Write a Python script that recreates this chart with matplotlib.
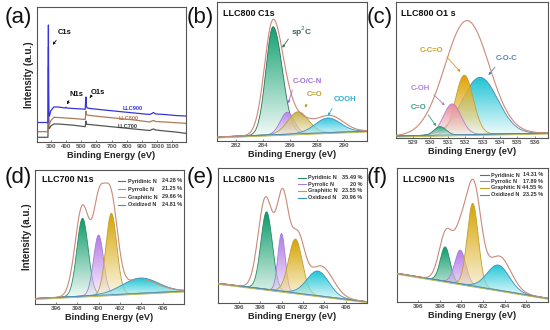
import numpy as np
import matplotlib
matplotlib.use('Agg')
import matplotlib.pyplot as plt
from matplotlib.path import Path
from matplotlib.patches import PathPatch
from matplotlib.colors import to_rgb
from matplotlib.lines import Line2D

plt.rcParams['font.family'] = ['Liberation Sans', 'DejaVu Sans']

# ---------------- DATA ----------------
# (a) survey spectra (binding energy eV, intensity a.u.)
survey_x_900 = [210, 282, 284, 285, 286, 288, 292, 300, 320, 350, 395, 400, 405, 450, 527, 530, 532, 534, 540, 560, 650, 750, 850, 950, 965, 975, 990, 1050, 1120, 1186]
survey_y_900 = [19.5, 19.5, 60, 117, 50, 28, 26, 31, 35, 35, 34, 34.8, 34, 33.5, 32.8, 42, 45, 36, 34, 33.5, 32, 30.5, 29, 27.5, 28.5, 29.5, 28, 27.5, 26.5, 26]
survey_x_800 = [210, 282, 284, 285, 286, 288, 292, 300, 320, 350, 450, 527, 530, 532, 534, 540, 560, 650, 750, 850, 950, 965, 975, 990, 1050, 1120, 1186]
survey_y_800 = [10.3, 10.3, 40, 95, 35, 19, 18, 21, 24.7, 24.5, 23.5, 22.5, 28, 31, 27.5, 27, 26.5, 25, 23.5, 22, 20, 21, 21.5, 20.5, 20, 19.3, 18.7]
survey_x_700 = [210, 282, 284, 285, 286, 288, 292, 300, 320, 350, 450, 527, 530, 532, 534, 540, 560, 650, 750, 850, 950, 965, 975, 990, 1050, 1120, 1186]
survey_y_700 = [4.7, 4.7, 30, 75, 25, 14, 13.5, 16, 18, 18, 16.8, 15.3, 19, 21, 18, 17.7, 17.4, 16, 14.5, 13, 11.5, 12.5, 13, 12, 11, 10, 8.7]
survey_names = ['LLC900', 'LLC800', 'LLC700']
survey_ticks = [300, 400, 500, 600, 700, 800, 900, 1000, 1100]

# (b) LLC800 C1s : (center, height, fwhm_left, fwhm_right)
c1s_names = ['sp$^2$C', 'C-O/C-N', 'C=O', 'COOH']
c1s_centers = [284.75, 285.8, 286.6, 288.8]
c1s_heights = [108, 22, 22, 14.6]
c1s_fwhm_l = [1.25, 1.2, 1.8, 2.2]
c1s_fwhm_r = [1.6, 1.2, 1.8, 2.2]
c1s_env_centers = [284.75, 285.9, 286.7, 288.9]
c1s_env_heights = [114, 10, 14, 17]
c1s_env_fwhm_l = [1.5, 1.2, 1.8, 2.4]
c1s_env_fwhm_r = [1.7, 1.2, 1.8, 2.4]
c1s_base = [4, 10]
c1s_ticks = [282, 284, 286, 288, 290]

# (c) LLC800 O1s
o1s_names = ['C-O-C', 'C-C=O', 'C-OH', 'C=O']
o1s_centers = [532.85, 531.95, 531.25, 530.55]
o1s_heights = [57, 59.5, 31, 8.5]
o1s_fwhm = [2.4, 1.2, 1.2, 0.8]
o1s_env_centers = [532.1]
o1s_env_heights = [114]
o1s_env_fwhm = [3.0]
o1s_base = [2, 5]
o1s_ticks = [529, 530, 531, 532, 533, 534, 535, 536]

# (d)-(f) N1s
n1s_names = ['Pyridinic N', 'Pyrrolic N', 'Graphitic N', 'Oxidized N']
n1s_ticks = [396, 398, 400, 402, 404, 406]

llc700_centers = [398.5, 400.0, 401.2, 403.9]
llc700_heights = [77.8, 60.3, 81.4, 15.2]
llc700_fwhm = [1.25, 1.1, 1.2, 4.0]
llc700_env_centers = [398.5, 400.0, 401.1, 403.8]
llc700_env_heights = [90, 75, 97, 14]
llc700_env_fwhm = [1.6, 1.2, 1.5, 4.0]
llc700_base = [5.5, 13]
llc700_pct = ['24.28 %', '21.25 %', '29.66 %', '24.81 %']

llc800_centers = [398.6, 400.0, 401.3, 403.4]
llc800_heights = [77.5, 57.7, 53.8, 24.6]
llc800_fwhm = [1.25, 0.8, 1.5, 2.4]
llc800_env_centers = [398.5, 400.1, 401.5, 403.7]
llc800_env_heights = [91, 92, 55, 30]
llc800_env_fwhm = [1.6, 1.3, 1.5, 2.6]
llc800_base = [19.7, 1.3]
llc800_pct = ['35.49 %', '20 %', '23.55 %', '20.96 %']

llc900_centers = [398.5, 399.9, 401.05, 403.4]
llc900_heights = [34.4, 33.7, 82.5, 25]
llc900_fwhm = [1.05, 1.2, 1.2, 2.4]
llc900_env_centers = [398.6, 399.9, 401.1, 403.5]
llc900_env_heights = [50, 40, 100, 34]
llc900_env_fwhm = [1.5, 1.3, 1.6, 2.5]
llc900_base = [28.7, 3.7]
llc900_pct = ['14.31 %', '17.89 %', '44.55 %', '23.25 %']

# ---------------- STYLE ----------------
W, H = 550, 330
fig = plt.figure(figsize=(5.5, 3.3), dpi=100)
ENV = '#c98b78'
SPINE = '#555555'
TXT = '#333333'


def P(x, y):
    return (x / W, 1 - y / H)


def add_axes(l, t, r, b):
    return fig.add_axes([l / W, 1 - b / H, (r - l) / W, (b - t) / H])


def peak(x, c, h, wl, wr):
    w = np.where(x < c, wl, wr)
    return h * np.exp(-4 * np.log(2) * ((x - c) / w) ** 2)


def grad_fill(ax, x, ytop, ybot, color, z):
    verts = np.column_stack([np.r_[x, x[::-1]], np.r_[ytop, ybot[::-1]]])
    patch = PathPatch(Path(verts), facecolor='none', edgecolor='none', transform=ax.transData)
    ax.add_patch(patch)
    n = 200
    t = np.linspace(0, 1, n)[:, None]
    rgb = np.array(to_rgb(color))
    img = np.zeros((n, 1, 4))
    f = t ** 0.55
    img[..., :3] = (1 - f)[..., None] * np.ones(3) + f[..., None] * rgb
    img[..., 3] = 0.35 + 0.65 * t ** 0.7
    im = ax.imshow(img, extent=[x.min(), x.max(), ybot.min(), ytop.max()], origin='lower',
                   aspect='auto', zorder=z, interpolation='bilinear')
    im.set_clip_path(patch)


def style_axes(ax, xlim, ylim, ticks, xlabel=True, ylabel=False):
    ax.set_xlim(*xlim)
    ax.set_ylim(*ylim)
    ax.set_yticks([])
    ax.set_xticks(ticks)
    ax.set_xticklabels([str(t) for t in ticks], fontsize=4.5, fontweight='bold', color='#444444')
    ax.tick_params(axis='x', direction='in', length=1.5, width=0.5, pad=1.5, colors='#555555')
    for s in ax.spines.values():
        s.set_color(SPINE)
        s.set_linewidth(0.8)
    if xlabel:
        ax.set_xlabel('Binding Energy (eV)', fontsize=6.6, fontweight='bold', labelpad=1.2, color='#222222')
    if ylabel:
        ax.set_ylabel('Intensity (a.u.)', fontsize=7, fontweight='bold', labelpad=2, color='#222222')


def draw_fit(ax, xlim, base_ends, centers, heights, fl, fr, colors, lcolors,
             ecent, eh, efl, efr, order=None):
    x = np.linspace(xlim[0], xlim[1], 800)
    base = np.interp(x, xlim, base_ends)
    idx = order if order is not None else range(len(centers))
    z = 2
    for i in idx:
        g = peak(x, centers[i], heights[i], fl[i], fr[i])
        grad_fill(ax, x, base + g, base, colors[i], z)
        ax.plot(x, base + g, color=lcolors[i], lw=0.6, zorder=z + 0.5)
        z += 1
    env = base.copy()
    for c, h, a, b in zip(ecent, eh, efl, efr):
        env = env + peak(x, c, h, a, b)
    ax.plot(x, env, color=ENV, lw=0.8, zorder=20)
    ax.plot(x, base, color='#4f8fb0', lw=0.6, zorder=19)
    ax.plot(x, base - 1.0, color='#a9b040', lw=0.6, zorder=18)


def panel_label(s, x, y):
    fig.text(*P(x, y), s, fontsize=16, ha='left', va='center', color='#111111')


def title(s, x, y):
    fig.text(*P(x, y), s, fontsize=6.5, fontweight='bold', ha='left', va='center', color='#111111')


def arrow_text(s, tx, ty, ax0, ay0, ax1, ay1, color, fs=5.5):
    fig.text(*P(tx, ty), s, fontsize=fs, fontweight='bold', ha='center', va='center', color=color)
    fig.add_artist(matplotlib.patches.FancyArrowPatch(P(ax0, ay0), P(ax1, ay1), transform=fig.transFigure,
                                                      arrowstyle='-|>', mutation_scale=3.5, color=color, lw=0.6))


def legend(xh0, xh1, xt, xr, ys, colors, names, pcts):
    for y, c, n, p in zip(ys, colors, names, pcts):
        fig.add_artist(Line2D([xh0 / W, xh1 / W], [1 - y / H] * 2, transform=fig.transFigure, color=c, lw=0.8))
        fig.text(*P(xt, y), n, fontsize=4, fontweight='bold', ha='left', va='center', color=TXT)
        fig.text(*P(xr, y), p, fontsize=4, fontweight='bold', ha='right', va='center', color=TXT)


# ---------------- (a) survey ----------------
axa = add_axes(37, 7, 185.5, 142)
for xs, ys, col in [(survey_x_700, survey_y_700, '#555555'),
                    (survey_x_800, survey_y_800, '#b07a55'),
                    (survey_x_900, survey_y_900, '#3535dd')]:
    axa.plot(xs, ys, color=col, lw=0.9)
style_axes(axa, (210, 1186), (0, 135), survey_ticks, ylabel=True)
panel_label('(a)', 5, 18)
fig.text(*P(133, 109), survey_names[0], fontsize=4, fontweight='bold', color='#3535dd', ha='center', va='center')
fig.text(*P(129, 119), survey_names[1], fontsize=4, fontweight='bold', color='#b07a55', ha='center', va='center')
fig.text(*P(128, 126), survey_names[2], fontsize=4, fontweight='bold', color='#333333', ha='center', va='center')
arrow_text('C1s', 65, 33, 58, 38, 51, 47, '#111111', fs=5.5)
arrow_text('N1s', 76, 94, 70, 98, 66, 107, '#111111', fs=5.5)
arrow_text('O1s', 98, 92, 92, 95, 88, 100, '#111111', fs=5.5)

# ---------------- (b) C1s ----------------
xlim_b = (280.6, 291.7)
axb = add_axes(217, 2, 367, 141)
cb = ['#0fa070', '#bb86f0', '#c8b048', '#26c4dc']
lb = ['#2f6f55', '#a37ad6', '#b4a03a', '#3f8fb8']
draw_fit(axb, xlim_b, c1s_base, c1s_centers, c1s_heights, c1s_fwhm_l, c1s_fwhm_r, cb, lb,
         c1s_env_centers, c1s_env_heights, c1s_env_fwhm_l, c1s_env_fwhm_r)
style_axes(axb, xlim_b, (0, 139), c1s_ticks)
panel_label('(b)', 187, 18)
title('LLC800 C1s', 223, 14)
arrow_text(c1s_names[0], 302, 31.7, 290, 36.7, 280.7, 50, '#3a6a50', fs=6)
arrow_text(c1s_names[1], 307.5, 81.7, 293.3, 87.3, 287.3, 106, '#a070e0')
arrow_text(c1s_names[2], 315, 94.3, 308.3, 101.7, 303.3, 110, '#b8a030')
arrow_text(c1s_names[3], 345, 100, 333.3, 106, 326.7, 118.3, '#30b0d0')

# ---------------- (c) O1s ----------------
xlim_c = (528.02, 536.76)
axc = add_axes(396, 2, 548, 138)
cc = ['#1cc4d4', '#e0a000', '#e88a9a', '#20a078']
lc = ['#5a80b0', '#c0a030', '#b080d0', '#2a8a66']
draw_fit(axc, xlim_c, o1s_base, o1s_centers, o1s_heights, o1s_fwhm, o1s_fwhm, cc, lc,
         o1s_env_centers, o1s_env_heights, o1s_env_fwhm, o1s_env_fwhm)
style_axes(axc, xlim_c, (0, 136), o1s_ticks)
panel_label('(c)', 367, 17)
title('LLC800 O1 s', 401, 13)
arrow_text(o1s_names[1], 431.7, 50, 445, 55, 462.3, 74, '#d0a010')
arrow_text(o1s_names[0], 506.7, 58.3, 496.7, 65, 486.7, 77.3, '#5a80b0')
arrow_text(o1s_names[2], 420.8, 88.3, 431.7, 92.7, 446.7, 107.3, '#b080d0')
arrow_text(o1s_names[3], 418.3, 107.3, 426.7, 112.7, 437.7, 128.3, '#30a080')

# ---------------- (d)-(f) N1s ----------------
cn = ['#0a9a68', '#b478e6', '#d6a400', '#1cc6d6']
ln = ['#2a8a66', '#a080d8', '#c0a030', '#3a90c0']
xlim_n = (394.05, 408.0)

axd = add_axes(35, 170, 184, 304)
draw_fit(axd, xlim_n, llc700_base, llc700_centers, llc700_heights, llc700_fwhm, llc700_fwhm, cn, ln,
         llc700_env_centers, llc700_env_heights, llc700_env_fwhm, llc700_env_fwhm)
style_axes(axd, xlim_n, (0, 134), n1s_ticks, ylabel=True)
panel_label('(d)', 5, 178)
title('LLC700 N1s', 42, 180)
legend(118, 125, 128, 182, [181, 189, 197, 205], ln, n1s_names, llc700_pct)

axe = add_axes(218, 168, 367, 303)
draw_fit(axe, xlim_n, llc800_base, llc800_centers, llc800_heights, llc800_fwhm, llc800_fwhm, cn, ln,
         llc800_env_centers, llc800_env_heights, llc800_env_fwhm, llc800_env_fwhm)
style_axes(axe, xlim_n, (0, 135), n1s_ticks)
panel_label('(e)', 187, 178)
title('LLC800 N1s', 223, 179)
legend(298, 306, 308, 362, [177.7, 184.3, 191, 197.7], ln, n1s_names, llc800_pct)

axf = add_axes(397, 168, 548, 302)
draw_fit(axf, xlim_n, llc900_base, llc900_centers, llc900_heights, llc900_fwhm, llc900_fwhm, cn, ln,
         llc900_env_centers, llc900_env_heights, llc900_env_fwhm, llc900_env_fwhm)
style_axes(axf, xlim_n, (0, 134), n1s_ticks)
panel_label('(f)', 367, 178)
title('LLC900 N1s', 403, 179)
legend(480, 489, 491, 543, [175, 181.3, 187.7, 195], ln, n1s_names, llc900_pct)

fig.savefig('out.png', dpi=100)
